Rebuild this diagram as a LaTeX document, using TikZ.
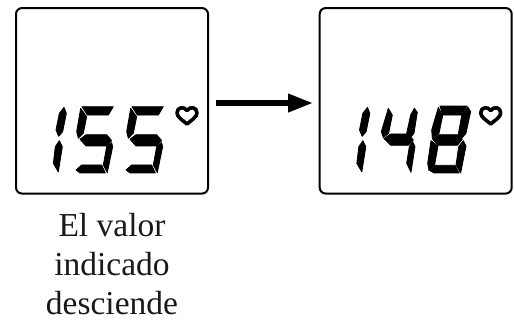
\documentclass[tikz,border=0pt]{standalone}
\usepackage{fontspec}
\setmainfont{Liberation Serif}
\usetikzlibrary{arrows.meta}
\tikzset{
  screen/.style={draw=black,line width=2pt,rounded corners=6pt,minimum width=192pt,minimum height=185.5pt,inner sep=0pt},
  caption/.style={align=center,font=\fontsize{33.5}{39}\selectfont,inner sep=0pt,text=black!90},
  flow/.style={line width=5.5pt,-{Triangle[length=25pt,width=17.5pt]}},
  heart/.style={draw=black,line width=3.6pt,fill=white,line join=round},
  segm/.style={fill=black,draw=black,line width=0.8pt,line join=round}
}
\newcommand{\digitone}{%
  \filldraw[segm] (42,22)--(49,40)--(38,95)--(26,109)--(18,90)--(28,40)--cycle;
  \filldraw[segm] (28,122)--(37,140)--(25,216)--(10,190)--(16,140)--cycle;}
\newcommand{\digitfive}{%
  \filldraw[segm] (96,20)--(190,20)--(175,45)--(112,45)--cycle;
  \filldraw[segm] (92,25)--(110,50)--(100,100)--(85,115)--(80,95)--cycle;
  \filldraw[segm] (90,118)--(108,104)--(170,104)--(185,122)--(170,138)--(108,138)--cycle;
  \filldraw[segm] (185,128)--(188,140)--(172,218)--(160,195)--(170,140)--cycle;
  \filldraw[segm] (78,210)--(95,195)--(155,195)--(166,219)--(90,219)--cycle;}
\newcommand{\digitfour}{%
  \filldraw[segm] (385,325)--(397,345)--(386,400)--(370,413)--(364,395)--cycle;
  \filldraw[segm] (372,416)--(392,402)--(445,402)--(460,420)--(445,436)--(392,436)--cycle;
  \filldraw[segm] (463,325)--(472,337)--(462,400)--(450,414)--(440,400)--(452,345)--cycle;
  \filldraw[segm] (458,425)--(465,440)--(453,517)--(440,490)--(448,440)--cycle;}
\newcommand{\digiteight}{%
  \filldraw[segm] (30,18)--(110,18)--(95,45)--(38,45)--cycle;
  \filldraw[segm] (113,20)--(122,35)--(108,100)--(95,115)--(85,102)--(95,47)--cycle;
  \filldraw[segm] (8,118)--(27,104)--(85,104)--(97,118)--(82,136)--(25,136)--cycle;
  \filldraw[segm] (25,22)--(38,47)--(27,100)--(7,116)--(5,90)--cycle;
  \filldraw[segm] (3,122)--(24,138)--(14,194)--(-3,212)--(-7,190)--cycle;
  \filldraw[segm] (100,122)--(108,138)--(92,219)--(78,195)--(86,140)--cycle;
  \filldraw[segm] (0,212)--(15,196)--(75,196)--(87,219)--(12,219)--cycle;}
\newcommand{\hrt}[2]{\draw[heart,shift={(#1,#2)}] (0,-5.5) .. controls (-3,-10) and (-10,-9) .. (-10,-3) .. controls (-10,1) and (-4,4.5) .. (0,8) .. controls (4,4.5) and (10,1) .. (10,-3) .. controls (10,-9) and (3,-10) .. (0,-5.5) -- cycle;}
\begin{document}
\begin{tikzpicture}[x=1pt,y=-1pt]
\useasboundingbox (0,0) rectangle (514,322);
\node[screen] (left) at (112,100.8) {};
\node[screen] (right) at (415.7,100.8) {};
\coordinate (arrowstart) at (216,103);
\coordinate (arrowend) at (313,103);
\draw[flow] (arrowstart) -- (arrowend);
\begin{scope}[x=0.3333pt,y=-0.3333pt]
\begin{scope}[xshift=50pt,yshift=-100pt]\digitone\end{scope}
\begin{scope}[xshift=50pt,yshift=-100pt]\digitfive\end{scope}
\begin{scope}[xshift=100pt,yshift=-100pt]\digitfive\end{scope}
\begin{scope}[xshift=353.5pt,yshift=-100pt]\digitone\end{scope}
\begin{scope}[xshift=260pt]\digitfour\end{scope}
\begin{scope}[xshift=430pt,yshift=-100pt]\digiteight\end{scope}
\end{scope}
\hrt{187}{116}
\hrt{490.7}{116}
\node[caption,anchor=base] (cap) at (112,314) {El valor\\indicado\\desciende};
\end{tikzpicture}
\end{document}
